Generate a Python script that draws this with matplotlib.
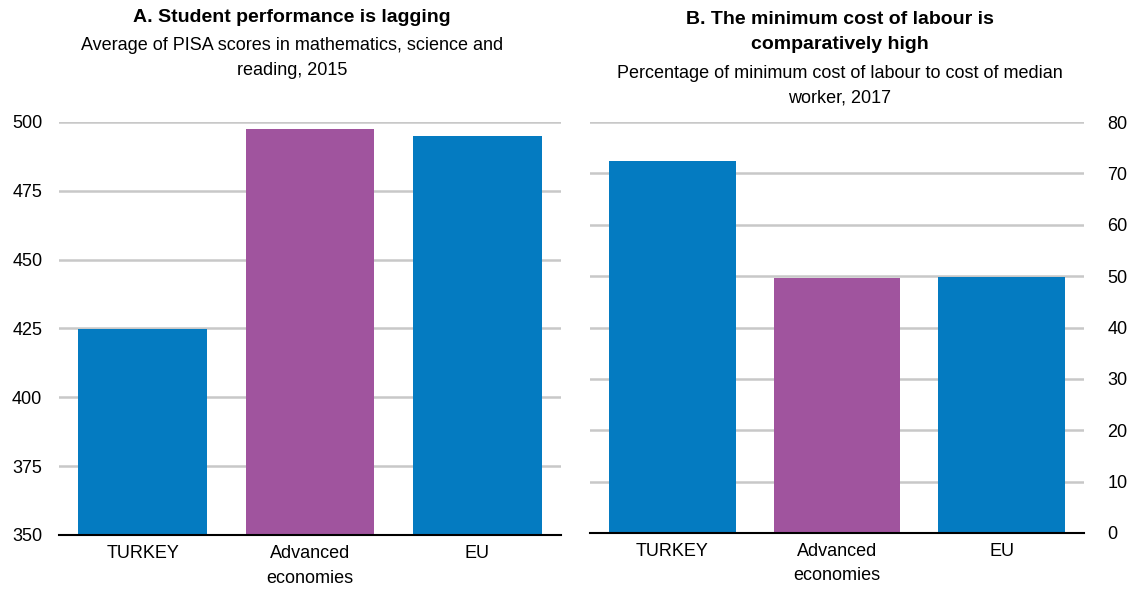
import matplotlib.pyplot as plt
from matplotlib import font_manager
import numpy as np

# pick a narrow sans if there is one
names = set(f.name for f in font_manager.fontManager.ttflist)
if 'Liberation Sans Narrow' in names:
    plt.rcParams['font.family'] = ['Liberation Sans Narrow', 'DejaVu Sans']
    fs = 15
else:
    plt.rcParams['font.family'] = ['Liberation Sans', 'DejaVu Sans']
    fs = 13

categories = ['TURKEY', 'Advanced\neconomies', 'EU']
pisa = [424.7, 497.5, 494.8]
min_cost = [72.5, 49.7, 49.8]

blue = '#047BC1'
purple = '#A0549E'
colors = [blue, purple, blue]

fig = plt.figure(figsize=(11.3, 5.92), dpi=100)
ax1 = fig.add_axes([0.0522, 0.0963, 0.4442, 0.698])
ax2 = fig.add_axes([0.5221, 0.0997, 0.4372, 0.694])

x = np.arange(len(categories))

def style(ax):
    ax.set_xlim(-0.5, 2.5)
    ax.grid(axis='y', color='#C8C8C8', linewidth=1.8)
    ax.set_axisbelow(True)
    for s in ['top', 'left', 'right']:
        ax.spines[s].set_visible(False)
    ax.spines['bottom'].set_color('black')
    ax.spines['bottom'].set_linewidth(1.5)
    ax.spines['bottom'].set_zorder(5)
    ax.tick_params(length=0, labelsize=fs)
    ax.tick_params(axis='x', pad=7)
    ax.set_xticks(x)
    ax.set_xticklabels(categories, fontsize=fs, linespacing=1.6)

ax1.bar(x, pisa, width=0.77, color=colors)
ax1.set_ylim(350, 500)
ax1.set_yticks(range(350, 501, 25))
style(ax1)
ax1.tick_params(axis='y', pad=12)

ax2.bar(x, min_cost, width=0.77, color=colors)
ax2.set_ylim(0, 80)
ax2.set_yticks(range(0, 81, 10))
style(ax2)
ax2.yaxis.tick_right()
ax2.tick_params(axis='y', pad=17)

fig.text(292/1130, 1-18/592, 'A. Student performance is lagging', ha='center', va='center',
         fontsize=fs+1, fontweight='bold')
fig.text(292/1130, 1-58/592, 'Average of PISA scores in mathematics, science and\nreading, 2015',
         ha='center', va='center', fontsize=fs, linespacing=1.55)
fig.text(840/1130, 1-32/592, 'B. The minimum cost of labour is\ncomparatively high', ha='center',
         va='center', fontsize=fs+1, fontweight='bold', linespacing=1.55)
fig.text(840/1130, 1-86/592, 'Percentage of minimum cost of labour to cost of median\nworker, 2017',
         ha='center', va='center', fontsize=fs, linespacing=1.55)

fig.savefig('out.png', dpi=100)
